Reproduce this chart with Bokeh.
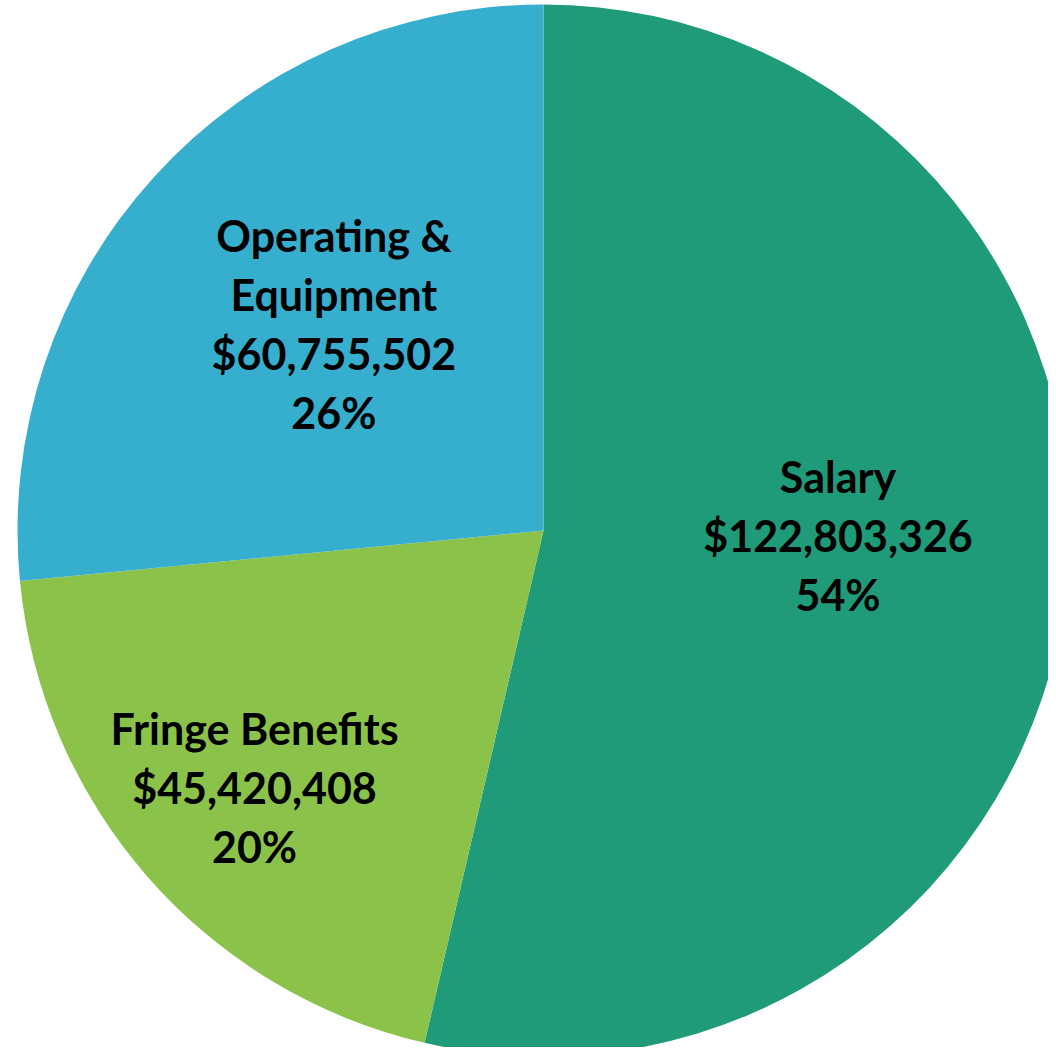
import math
from bokeh.plotting import figure
from bokeh.models import Range1d, ColumnDataSource
from bokeh.core.properties import value
from bokeh.embed import file_html
from bokeh.resources import INLINE

# ---- data ----
categories = ["Salary", "Fringe Benefits", "Operating &\nEquipment"]
amounts = [122803326, 45420408, 60755502]
percent_labels = ["54%", "20%", "26%"]
colors = ["#1F9B79", "#8BC34A", "#36AECE"]
# label placement (style): distance from centre as fraction of radius, angle nudge (deg)
label_radius = [0.56, 0.735, 0.56]
label_angle_nudge = [5.5, 0.4, -2.4]

W, H = 1048, 1047
p = figure(width=W, height=H, output_backend="svg", toolbar_location=None,
           x_range=Range1d(0, W), y_range=Range1d(0, H), min_border=0)
p.axis.visible = False
p.grid.visible = False
p.outline_line_color = None
p.background_fill_color = "white"
p.border_fill_color = "white"

cx, cy, r = 543, 517, 526
total = sum(amounts)
start = math.pi / 2
starts, ends, mids = [], [], []
for a in amounts:
    sweep = 2 * math.pi * a / total
    end = start - sweep
    starts.append(end)
    ends.append(start)
    mids.append((start + end) / 2)
    start = end

src = ColumnDataSource(dict(x=[cx] * 3, y=[cy] * 3, start=starts, end=ends, color=colors))
p.wedge(x="x", y="y", radius=r, start_angle="start", end_angle="end",
        fill_color="color", line_color=None, source=src)

lx, ly, lt = [], [], []
line_h = 59
for i, cat in enumerate(categories):
    lines = cat.split("\n") + ["${:,}".format(amounts[i]), percent_labels[i]]
    ang = mids[i] + math.radians(label_angle_nudge[i])
    ax = cx + label_radius[i] * r * math.cos(ang)
    ay = cy + label_radius[i] * r * math.sin(ang)
    n = len(lines)
    for j, t in enumerate(lines):
        lx.append(ax)
        ly.append(ay + ((n - 1) / 2 - j) * line_h)
        lt.append(t)

p.text(x=lx, y=ly, text=lt, text_align="center", text_baseline="middle",
       text_font=value("Lato"), text_font_style="bold", text_font_size="43px",
       text_color="black")

open("out.html", "w").write(file_html(p, INLINE))
